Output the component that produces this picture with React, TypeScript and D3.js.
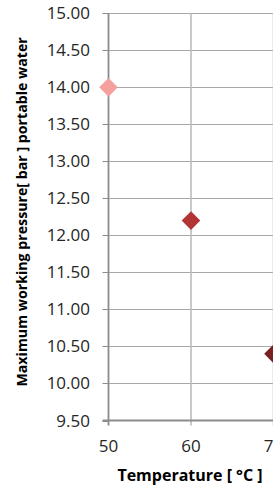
import { useEffect, useRef } from 'react';
import * as d3 from 'd3';

// Data
const temperatures = [50, 60, 70];
const pressures = [14.0, 12.2, 10.4];
const pointColors = ['#F4A09C', '#B23434', '#7B2020'];
const yTicks = [9.5, 10, 10.5, 11, 11.5, 12, 12.5, 13, 13.5, 14, 14.5, 15];
const xTicks = [50, 60, 70];

const xTitle = 'Temperature [ °C ]';
const yTitle = 'Maximum working pressure[ bar ] portable water';

export default function App() {
    const ref = useRef<SVGSVGElement>(null);

    useEffect(() => {
        document.body.style.margin = '0';
        if (!ref.current) return;

        const svg = d3.select(ref.current);
        svg.selectAll('*').remove();

        const width = 273;
        const height = 486;
        const plot = { left: 108.5, right: 273.5, top: 13.3, bottom: 420.5 };

        const x = d3.scaleLinear().domain([50, 70]).range([plot.left, plot.right]);
        const y = d3.scaleLinear().domain([9.5, 15]).range([plot.bottom, plot.top]);

        svg.attr('width', width).attr('height', height);

        const font = '"Open Sans", sans-serif';

        // Horizontal gridlines
        svg.append('g')
            .selectAll('line')
            .data(yTicks.filter(d => d !== 9.5))
            .join('line')
            .attr('x1', plot.left)
            .attr('x2', width)
            .attr('y1', d => Math.round(y(d)) + 0.5)
            .attr('y2', d => Math.round(y(d)) + 0.5)
            .attr('stroke', '#a8a8a8')
            .attr('stroke-width', 1);

        // Vertical gridlines (extend a little below axis like tick marks)
        svg.append('g')
            .selectAll('line')
            .data(xTicks.filter(d => d !== 50))
            .join('line')
            .attr('x1', d => x(d))
            .attr('x2', d => x(d))
            .attr('y1', plot.top)
            .attr('y2', plot.bottom + 5)
            .attr('stroke', '#bcbcbc')
            .attr('stroke-width', 1.6);

        // Y axis line + ticks
        svg.append('line')
            .attr('x1', plot.left).attr('x2', plot.left)
            .attr('y1', plot.top).attr('y2', plot.bottom + 5)
            .attr('stroke', '#8c8c8c')
            .attr('stroke-width', 1.8);

        svg.append('g')
            .selectAll('line')
            .data(yTicks)
            .join('line')
            .attr('x1', plot.left - 6)
            .attr('x2', plot.left)
            .attr('y1', d => Math.round(y(d)) + 0.5)
            .attr('y2', d => Math.round(y(d)) + 0.5)
            .attr('stroke', '#8c8c8c')
            .attr('stroke-width', 1);

        // X axis line
        svg.append('line')
            .attr('x1', plot.left - 6).attr('x2', width)
            .attr('y1', plot.bottom).attr('y2', plot.bottom)
            .attr('stroke', '#8c8c8c')
            .attr('stroke-width', 1.8);

        // Y tick labels
        svg.append('g')
            .selectAll('text')
            .data(yTicks)
            .join('text')
            .attr('x', 90)
            .attr('y', d => y(d) + 6)
            .attr('text-anchor', 'end')
            .attr('font-family', font)
            .attr('font-size', 17)
            .attr('fill', '#262626')
            .text(d => d3.format('.2f')(d));

        // X tick labels (70 is clipped by the right edge, as in the source)
        svg.append('g')
            .selectAll('text')
            .data(xTicks)
            .join('text')
            .attr('x', d => x(d))
            .attr('y', 452)
            .attr('text-anchor', 'middle')
            .attr('font-family', font)
            .attr('font-size', 17)
            .attr('fill', '#262626')
            .text(d => String(d));

        // Points
        const diamond = d3.symbol().type(d3.symbolDiamond2).size(220);
        svg.append('g')
            .selectAll('path')
            .data(temperatures.map((t, i) => ({ t, p: pressures[i], c: pointColors[i] })))
            .join('path')
            .attr('transform', d => `translate(${x(d.t)},${y(d.p)})`)
            .attr('d', diamond as any)
            .attr('fill', d => d.c);

        // Axis titles
        svg.append('text')
            .attr('x', 190)
            .attr('y', 481)
            .attr('text-anchor', 'middle')
            .attr('font-family', font)
            .attr('font-weight', 700)
            .attr('font-size', 16)
            .attr('fill', '#000')
            .text(xTitle);

        svg.append('text')
            .attr('transform', `translate(26.5,${(plot.top + plot.bottom) / 2 - 5}) rotate(-90)`)
            .attr('text-anchor', 'middle')
            .attr('font-family', font)
            .attr('font-weight', 700)
            .attr('font-size', 14.2)
            .attr('fill', '#000')
            .text(yTitle);
    }, []);

    return <svg ref={ref} style={{ display: 'block' }} />;
}
